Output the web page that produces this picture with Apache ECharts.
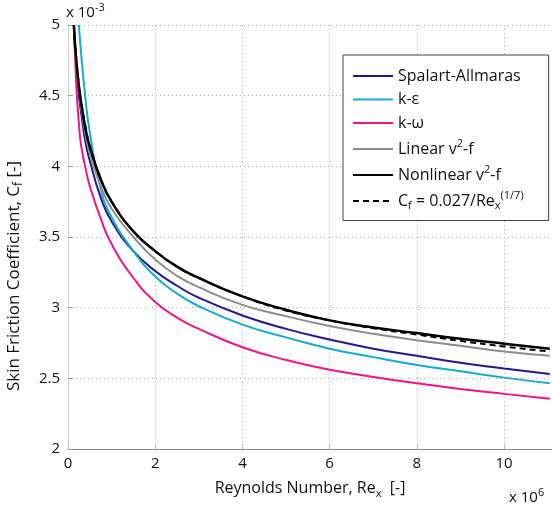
<!DOCTYPE html>
<html><head><meta charset="utf-8">
<script src="https://cdn.jsdelivr.net/npm/echarts@6/dist/echarts.min.js"></script>
<style>html,body{margin:0;padding:0;background:#fff}#c{width:552px;height:506px}</style>
</head><body><div id="c"></div>
<script>
// Reynolds number (x 10^6)
const reynolds =        [0.135, 0.15, 0.17, 0.2,  0.25, 0.3,   0.4,  0.5,  0.75, 1,    1.5,  2,    2.5,   3,     4,     5,     6,     7,     8,     9,     10,    11.05];
// Skin friction coefficient (x 10^-3)
const spalartAllmaras = [4.98,  4.89, 4.79, 4.68, 4.50, 4.38,  4.17, 4.04, 3.78, 3.61, 3.40, 3.26, 3.155, 3.07,  2.945, 2.85,  2.775, 2.71,  2.66,  2.61,  2.57,  2.53];
const kEpsilon =        [null,  null, null, null, 5.0,  4.80,  4.48, 4.24, 3.84, 3.64, 3.40, 3.22, 3.10,  3.01,  2.88,  2.79,  2.71,  2.65,  2.595, 2.55,  2.505, 2.465];
const kOmega =          [5.0,   4.88, 4.72, 4.52, 4.30, 4.15,  3.99, 3.86, 3.63, 3.45, 3.21, 3.04, 2.93,  2.85,  2.72,  2.63,  2.56,  2.51,  2.465, 2.425, 2.39,  2.355];
const linearV2f =       [4.99,  4.90, 4.81, 4.70, 4.55, 4.42,  4.23, 4.09, 3.86, 3.70, 3.50, 3.34, 3.225, 3.145, 3.02,  2.94,  2.87,  2.815, 2.77,  2.73,  2.69,  2.66];
const nonlinearV2f =    [5.0,   4.92, 4.83, 4.72, 4.57, 4.455, 4.27, 4.14, 3.91, 3.75, 3.54, 3.40, 3.29,  3.21,  3.08,  2.985, 2.91,  2.86,  2.82,  2.78,  2.745, 2.71];
const correlation =     [5.0,   4.92, 4.83, 4.72, 4.57, 4.455, 4.28, 4.14, 3.91, 3.75, 3.54, 3.40, 3.29,  3.21,  3.08,  2.98,  2.91,  2.855, 2.81,  2.765, 2.725, 2.69];

const seriesNames = ['Spalart-Allmaras', 'k-ε', 'k-ω', 'Linear v2-f', 'Nonlinear v2-f', 'Cf correlation'];
const xTicks = [0, 2, 4, 6, 8, 10];
const yTicks = [2, 2.5, 3, 3.5, 4, 4.5, 5];

const FONT = 'Open Sans';
function pairs(ys) {
  const out = [];
  reynolds.forEach((x, i) => { if (ys[i] != null) out.push([x, ys[i]]); });
  return out;
}
function rich(sz) {
  return {
    sup: {fontFamily: FONT, fontSize: sz, padding: [0, 0, 10, 0], color: '#111'},
    sub: {fontFamily: FONT, fontSize: sz, padding: [10, 0, 0, 0], color: '#111'}
  };
}
const legendLabels = {
  'Spalart-Allmaras': 'Spalart-Allmaras',
  'k-ε': 'k-ε',
  'k-ω': 'k-ω',
  'Linear v2-f': 'Linear v{sup|2}-f',
  'Nonlinear v2-f': 'Nonlinear v{sup|2}-f',
  'Cf correlation': 'C{sub|f} = 0.027/Re{sub|x}{sup|(1/7)}'
};

function line(name, data, color, width, type, z) {
  return {
    name, type: 'line', data: pairs(data), showSymbol: false, symbol: 'none',
    smooth: 0.5, z,
    lineStyle: {color, width, type}, itemStyle: {color}
  };
}

const chart = echarts.init(document.getElementById('c'), null, {renderer: 'canvas'});
chart.setOption({
  animation: false,
  backgroundColor: '#fff',
  textStyle: {fontFamily: FONT},
  grid: {left: 68, right: -1, top: 25, bottom: 57},
  xAxis: {
    type: 'value', min: 0, max: 11.1, interval: 2,
    axisLine: {lineStyle: {color: '#888', width: 1}},
    axisTick: {inside: true, length: 5, lineStyle: {color: '#bbb'}},
    axisLabel: {showMaxLabel: false, fontFamily: FONT, fontSize: 15, color: '#111', margin: 7,
      formatter: v => xTicks.includes(v) ? String(v) : ''},
    splitLine: {show: true, lineStyle: {color: '#aaa', width: 1, type: [1, 3]}},
    name: 'Reynolds Number, Re{sub|x}  [-]',
    nameLocation: 'middle', nameGap: 29,
    nameTextStyle: {fontFamily: FONT, fontSize: 16, color: '#111', rich: rich(11)}
  },
  yAxis: {
    type: 'value', min: 2, max: 5, interval: 0.5,
    axisLine: {show: true, lineStyle: {color: '#ccc', width: 1}},
    axisTick: {show: true, inside: true, length: 5, lineStyle: {color: '#999'}},
    axisLabel: {fontFamily: FONT, fontSize: 15, color: '#111', margin: 8,
      formatter: v => yTicks.includes(v) ? String(v) : ''},
    splitLine: {show: true, lineStyle: {color: '#aaa', width: 1, type: [1, 3]}}
  },
  legend: {
    data: seriesNames,
    orient: 'vertical', left: 343, top: 55,
    backgroundColor: '#fff', borderColor: '#444', borderWidth: 1, borderRadius: 0,
    padding: [13, 25, 9, 9],
    itemWidth: 40, itemHeight: 12, itemGap: 7.5,
    itemStyle: {opacity: 0},
    textStyle: {fontFamily: FONT, fontSize: 16, color: '#111', rich: rich(11)},
    formatter: n => legendLabels[n]
  },
  graphic: [
    {type: 'text', x: 66, y: 13, style: {text: 'x 10{sup|-3}', font: '15px "Open Sans"', fill: '#111',
      verticalAlign: 'middle', rich: rich(11)}},
    {type: 'text', x: 509, y: 498, style: {text: 'x 10{sup|6}', font: '15px "Open Sans"', fill: '#111',
      verticalAlign: 'middle', rich: rich(11)}},
    {type: 'text', x: 14, y: 276, rotation: Math.PI / 2,
      style: {text: 'Skin Friction Coefficient, C{sub|f} [-]', font: '17px "Open Sans"', fill: '#111',
        align: 'center', verticalAlign: 'middle', rich: rich(12)}}
  ],
  series: [
    line(seriesNames[0], spalartAllmaras, '#23198f', 2, 'solid', 2),
    line(seriesNames[1], kEpsilon, '#16abcf', 2, 'solid', 2),
    line(seriesNames[2], kOmega, '#f0148c', 2, 'solid', 2),
    line(seriesNames[3], linearV2f, '#8c8c8c', 2, 'solid', 3),
    line(seriesNames[5], correlation, '#000', 2, [6, 4], 4),
    line(seriesNames[4], nonlinearV2f, '#000', 2.5, 'solid', 5)
  ]
});
</script></body></html>
